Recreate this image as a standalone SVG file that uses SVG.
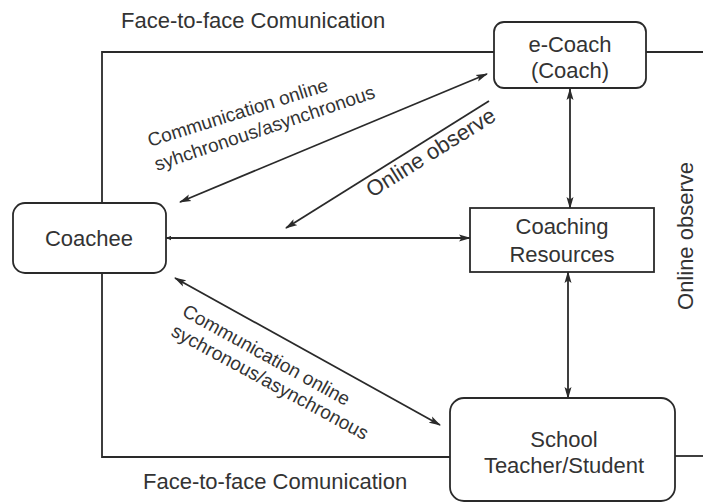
<svg xmlns="http://www.w3.org/2000/svg" width="703" height="504" viewBox="0 0 703 504">
<defs>
<style>
.box{fill:#fff;stroke:#2a2a2a;stroke-width:1.8}
.ln{fill:none;stroke:#2a2a2a;stroke-width:1.8}
.t{font-family:"Liberation Sans",Arial,sans-serif;font-size:22px;fill:#333}
.c{text-anchor:middle}
.s{font-size:19px}
</style>
<marker id="ah" viewBox="0 0 12 8" refX="11" refY="4" markerWidth="12" markerHeight="8" markerUnits="userSpaceOnUse" orient="auto-start-reverse">
<path d="M0,0.5 L12,4 L0,7.5 L2.5,4 z" fill="#2a2a2a"/>
</marker>
<marker id="tail" viewBox="0 0 5 5" refX="0" refY="2.5" markerWidth="5" markerHeight="5" markerUnits="userSpaceOnUse" orient="auto">
<path d="M0,2.5 L5,0.3 L5,4.7 z" fill="#2a2a2a"/>
</marker>
</defs>
<rect width="703" height="504" fill="#fff"/>

<g id="frame">
<polyline class="ln" points="494,52 102,52 102,203"/>
<polyline class="ln" points="102,273 102,457 450,457"/>
<line class="ln" x1="646" y1="52" x2="703" y2="52"/>
<line class="ln" x1="675" y1="456" x2="703" y2="456"/>
</g>

<g id="connectors">
<line class="ln" x1="180" y1="202" x2="487" y2="74" marker-start="url(#ah)" marker-end="url(#ah)"/>
<line class="ln" x1="489" y1="101" x2="286" y2="228" marker-end="url(#ah)"/>
<line class="ln" x1="166" y1="238" x2="470" y2="238" marker-start="url(#tail)" marker-end="url(#ah)"/>
<line class="ln" x1="570" y1="89" x2="570" y2="208" marker-start="url(#ah)" marker-end="url(#ah)"/>
<line class="ln" x1="568" y1="272" x2="568" y2="398" marker-start="url(#ah)" marker-end="url(#ah)"/>
<line class="ln" x1="175" y1="278" x2="440" y2="425" marker-start="url(#ah)" marker-end="url(#ah)"/>
</g>

<g id="labels">
<text class="t" x="121" y="28">Face-to-face Comunication</text>
<text class="t" x="143" y="489">Face-to-face Comunication</text>
<text class="t c" transform="translate(693,236) rotate(-90)">Online observe</text>
<text class="t" transform="translate(372,198) rotate(-32)">Online observe</text>
<text class="t s" transform="translate(150,147) rotate(-17.5)">Communication online</text>
<text class="t s" transform="translate(157,171) rotate(-18.5)">syhchronous/asynchronous</text>
<text class="t s" transform="translate(181,315) rotate(29)">Communication online</text>
<text class="t s" transform="translate(170,335) rotate(28.5)">sychronous/asynchronous</text>
</g>

<g id="ecoach">
<rect class="box" x="494" y="22" width="152" height="66" rx="10"/>
<text class="t c" x="570" y="52">e-Coach</text>
<text class="t c" x="570" y="78">(Coach)</text>
</g>

<g id="coachee">
<rect class="box" x="13" y="203" width="153" height="70" rx="12"/>
<text class="t c" x="89" y="246">Coachee</text>
</g>

<g id="resources">
<rect class="box" x="470" y="208" width="184" height="64"/>
<text class="t c" x="562" y="234">Coaching</text>
<text class="t c" x="562" y="262">Resources</text>
</g>

<g id="school">
<rect class="box" x="450" y="398" width="225" height="103" rx="14"/>
<text class="t c" x="564" y="447">School</text>
<text class="t c" x="564" y="473">Teacher/Student</text>
</g>
</svg>
